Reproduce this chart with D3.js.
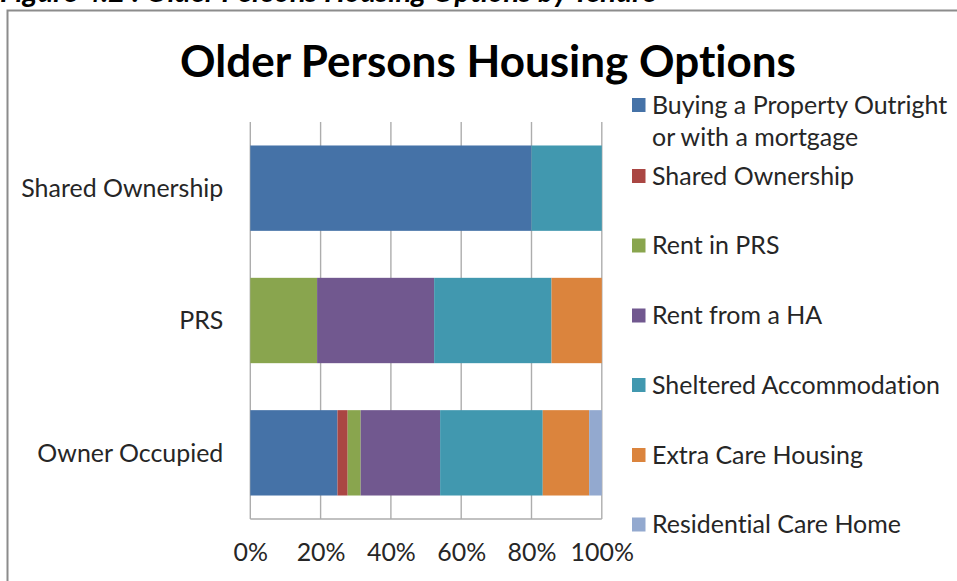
<!DOCTYPE html>
<html>
<head>
<meta charset="utf-8">
<script src="https://cdn.jsdelivr.net/npm/d3@7"></script>
<style>
  html, body { margin: 0; padding: 0; background: #fff; }
  svg { display: block; font-variant-ligatures: none; }
  text { font-variant-ligatures: none; }
</style>
</head>
<body>
<svg id="chart" width="957" height="581"></svg>
<script>
// ---- Data ----
const caption = "Figure 4.2 : Older Persons Housing Options by Tenure";
const title = "Older Persons Housing Options";
const categories = ["Shared Ownership", "PRS", "Owner Occupied"];
const seriesNames = [
  "Buying a Property Outright or with a mortgage",
  "Shared Ownership",
  "Rent in PRS",
  "Rent from a HA",
  "Sheltered Accommodation",
  "Extra Care Housing",
  "Residential Care Home"
];
const legendLines = [
  ["Buying a Property Outright", "or with a mortgage"],
  ["Shared Ownership"],
  ["Rent in PRS"],
  ["Rent from a HA"],
  ["Sheltered Accommodation"],
  ["Extra Care Housing"],
  ["Residential Care Home"]
];
// percentages per category (Shared Ownership, PRS, Owner Occupied)
const buying      = [80.0, 0.0, 24.8];
const sharedOwn   = [0.0, 0.0, 2.9];
const rentPRS     = [0.0, 19.0, 3.7];
const rentHA      = [0.0, 33.3, 22.6];
const sheltered   = [20.0, 33.4, 29.2];
const extraCare   = [0.0, 14.3, 13.2];
const residential = [0.0, 0.0, 3.6];
const xTicks = [0, 20, 40, 60, 80, 100];
const colors = ["#4572A7", "#AA4643", "#89A54E", "#71588F", "#4198AF", "#DB843D", "#93A9CF"];

const seriesValues = [buying, sharedOwn, rentPRS, rentHA, sheltered, extraCare, residential];
const table = categories.map((c, i) => {
  const row = { category: c };
  seriesNames.forEach((s, j) => { row[s] = seriesValues[j][i]; });
  return row;
});

// ---- Layout ----
const svg = d3.select("#chart");
const FONT = "Lato, 'Open Sans', sans-serif";
const plot = { left: 250.3, right: 601.8, top: 122, bottom: 519 };

// helper: font size that makes a reference string a given width
function fitSize(text, width, weight, style) {
  const t = svg.append("text").attr("font-family", FONT).attr("font-size", 100)
    .attr("font-weight", weight || "normal").attr("font-style", style || "normal").text(text);
  const w = t.node().getComputedTextLength();
  t.remove();
  return 100 * width / w;
}

// outer border
svg.append("rect").attr("x", 7.5).attr("y", 10.5).attr("width", 970).attr("height", 600)
  .attr("fill", "none").attr("stroke", "#8c8c8c").attr("stroke-width", 2);

// caption at top (cropped by the picture's edge, as in the reference)
const capSize = fitSize(caption, 657, "bold", "italic");
svg.append("text").attr("x", 0).attr("y", 2)
  .attr("font-family", FONT).attr("font-weight", "bold").attr("font-style", "italic")
  .attr("font-size", capSize).attr("fill", "#000").text(caption);

// title
const titleSize = fitSize(title, 616, "bold");
svg.append("text").attr("x", 488).attr("y", 77).attr("text-anchor", "middle")
  .attr("font-family", FONT).attr("font-weight", "bold").attr("font-size", titleSize)
  .attr("fill", "#000").text(title);

// scales
const x = d3.scaleLinear().domain([0, 100]).range([plot.left, plot.right]);
const y = d3.scaleBand().domain(categories).range([plot.top, plot.bottom])
  .paddingInner(0.355).paddingOuter(0.1775);

// gridlines
const gridColor = "#adadad";
svg.append("g").selectAll("line").data(xTicks).join("line")
  .attr("x1", d => x(d)).attr("x2", d => x(d))
  .attr("y1", plot.top).attr("y2", plot.bottom)
  .attr("stroke", gridColor).attr("stroke-width", 1.4);

// bars
const stack = d3.stack().keys(seriesNames);
const stacked = stack(table);
svg.append("g").selectAll("g").data(stacked).join("g")
  .attr("fill", (d, i) => colors[i])
  .selectAll("rect").data(d => d).join("rect")
  .attr("x", d => x(d[0]))
  .attr("width", d => Math.max(0, x(d[1]) - x(d[0])))
  .attr("y", d => y(d.data.category))
  .attr("height", y.bandwidth());

// bottom axis line
svg.append("line").attr("x1", plot.left).attr("x2", plot.right)
  .attr("y1", plot.bottom).attr("y2", plot.bottom)
  .attr("stroke", gridColor).attr("stroke-width", 1.4);

const labelSize = fitSize("Sheltered Accommodation", 288);
const textColor = "#262626";

// x axis labels
const xAxis = d3.axisBottom(x).tickValues(xTicks).tickFormat(d => d + "%").tickSize(0).tickPadding(0);
const gx = svg.append("g").attr("transform", `translate(0, ${plot.bottom})`).call(xAxis);
gx.select(".domain").remove();
gx.selectAll("text").attr("font-family", FONT).attr("font-size", labelSize)
  .attr("fill", textColor).attr("dy", null).attr("y", 42);

// y axis labels
const yAxis = d3.axisLeft(y).tickSize(0).tickPadding(27);
const gy = svg.append("g").attr("transform", `translate(${plot.left}, 0)`).call(yAxis);
gy.select(".domain").remove();
gy.selectAll("text").attr("font-family", FONT).attr("font-size", labelSize)
  .attr("fill", textColor).attr("dy", "0.35em");

// legend
const legendY = [105, 176, 245.5, 315.5, 385, 455, 524.5];
const lg = svg.append("g");
legendLines.forEach((lines, i) => {
  const g = lg.append("g").attr("transform", `translate(0, ${legendY[i]})`);
  g.append("rect").attr("x", 632).attr("y", -7).attr("width", 13.5).attr("height", 14)
    .attr("fill", colors[i]);
  lines.forEach((ln, k) => {
    g.append("text").attr("x", 652).attr("y", k * 32).attr("dy", "0.35em")
      .attr("font-family", FONT).attr("font-size", labelSize).attr("fill", textColor).text(ln);
  });
});
</script>
</body>
</html>
